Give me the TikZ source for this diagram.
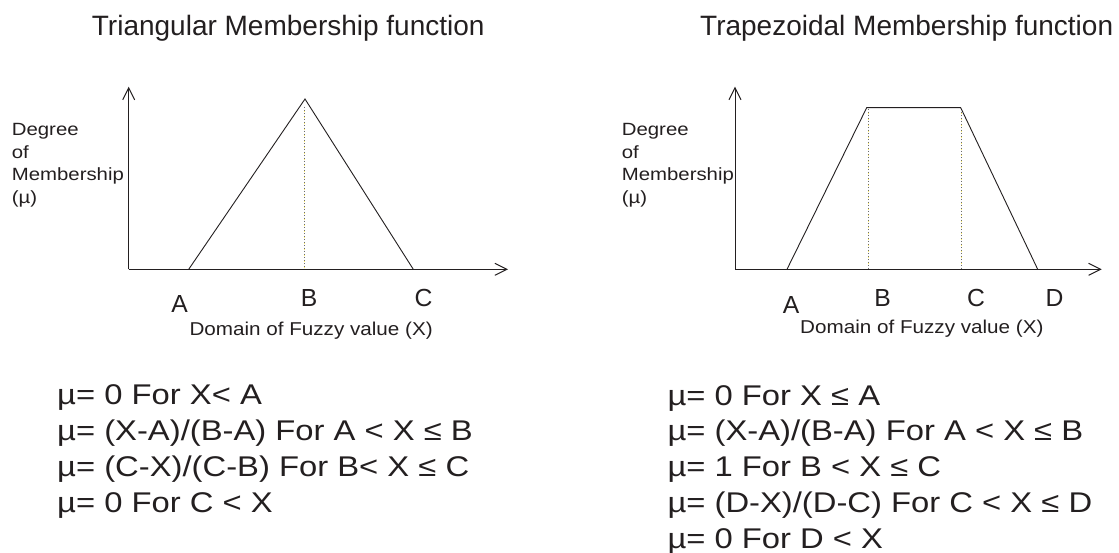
\documentclass[tikz,border=0pt]{standalone}
\usepackage{fontspec}
\setmainfont{Liberation Sans}
\newfontfamily\wide{Liberation Sans}[FakeStretch=1.15]
\newfontfamily\widea{Liberation Sans}[FakeStretch=1.11]
\usetikzlibrary{arrows.meta}
\definecolor{ink}{HTML}{231F20}
\tikzset{
  axis/.style={draw=ink, line width=1pt, -{Straight Barb[length=12pt,width=12pt,line width=1pt]}},
  curve/.style={draw=ink, line width=0.9pt, line join=miter},
  guide/.style={draw=gray!85!black, line width=1pt, dash pattern=on 1.2pt off 1.8pt},
  guidey/.style={draw=yellow!85!orange, line width=0.6pt, opacity=0.6, dash pattern=on 0.8pt off 5.2pt, dash phase=1.5pt},
  title/.style={text=ink, inner sep=0pt, anchor=base west, font=\fontsize{28}{34}\selectfont},
  ylab/.style={text=ink, inner sep=0pt, anchor=north west, align=left, font=\wide\fontsize{17.7}{22.5}\selectfont},
  tick/.style={text=ink, inner sep=0pt, anchor=base, font=\fontsize{24.7}{30}\selectfont},
  xlab/.style={text=ink, inner sep=0pt, anchor=base west, font=\widea\fontsize{18.6}{22}\selectfont},
  formula/.style={text=ink, inner sep=0pt, anchor=base west, font=\wide\fontsize{28.5}{36}\selectfont}
}
\begin{document}
\begin{tikzpicture}[x=1pt,y=-1pt]
\useasboundingbox[fill=white] (0,0) rectangle (1119,553);

% ---------- Triangular ----------
\node[title] (t1) at (91.7,35.7) {Triangular Membership function};
\coordinate (o1) at (128.7,269.3);
\coordinate (y1) at (128.7,86.7);
\coordinate (x1) at (508,269.3);
\coordinate (a1) at (188.7,269.3);
\coordinate (b1) at (305,99);
\coordinate (c1) at (413.3,269.3);
\coordinate (bt1) at (304,106.7);
\coordinate (bb1) at (304,269.3);
\draw[guidey] (bt1) -- (bb1);
\draw[guide] (bt1) -- (bb1);
\draw[axis] (o1) -- (y1);
\draw[axis] (o1) -- (x1);
\draw[curve] (a1) -- (b1) -- (c1);
\node[ylab] (d1) at (11.7,123.3) {Degree\\of\\Membership\\(µ)};
\node[tick] (la1) at (179.7,312.7) {A};
\node[tick] (lb1) at (309,306.7) {B};
\node[tick] (lc1) at (423.5,306.7) {C};
\node[xlab] (dom1) at (189.3,335) {Domain of Fuzzy value (X)};
\node[formula] (f11) at (57,404) {µ= 0 For X< A};
\node[formula] (f12) at (57,440) {µ= (X-A)/(B-A) For A < X ≤ B};
\node[formula] (f13) at (57,476) {µ= (C-X)/(C-B) For B< X ≤ C};
\node[formula] (f14) at (57,512) {µ= 0 For C < X};

% ---------- Trapezoidal ----------
\node[title] (t2) at (700,35.7) {Trapezoidal Membership function};
\coordinate (o2) at (735,269.3);
\coordinate (y2) at (735,86.7);
\coordinate (x2) at (1101.7,269.3);
\coordinate (a2) at (787,269.3);
\coordinate (b2) at (866.7,107.7);
\coordinate (c2) at (960.7,107.7);
\coordinate (d2) at (1037.7,269.3);
\coordinate (bt2) at (868.7,108.7);
\coordinate (bb2) at (868.7,269.3);
\coordinate (ct2) at (961,108.7);
\coordinate (cb2) at (961,269.3);
\draw[guidey] (bt2) -- (bb2);
\draw[guide] (bt2) -- (bb2);
\draw[guidey] (ct2) -- (cb2);
\draw[guide] (ct2) -- (cb2);
\draw[axis] (o2) -- (y2);
\draw[axis] (o2) -- (x2);
\draw[curve] (a2) -- (b2) -- (c2) -- (d2);
\node[ylab] (d2l) at (621.7,123.3) {Degree\\of\\Membership\\(µ)};
\node[tick] (la2) at (791,313.3) {A};
\node[tick] (lb2) at (882.5,306) {B};
\node[tick] (lc2) at (976,306) {C};
\node[tick] (ld2) at (1054.5,306) {D};
\node[xlab] (dom2) at (800,334) {Domain of Fuzzy value (X)};
\node[formula] (f21) at (667.3,405) {µ= 0 For X ≤ A};
\node[formula] (f22) at (667.3,440) {µ= (X-A)/(B-A) For A < X ≤ B};
\node[formula] (f23) at (667.3,476) {µ= 1 For B < X ≤ C};
\node[formula] (f24) at (667.3,512) {µ= (D-X)/(D-C) For C < X ≤ D};
\node[formula] (f25) at (667.3,548) {µ= 0 For D < X};
\end{tikzpicture}
\end{document}
